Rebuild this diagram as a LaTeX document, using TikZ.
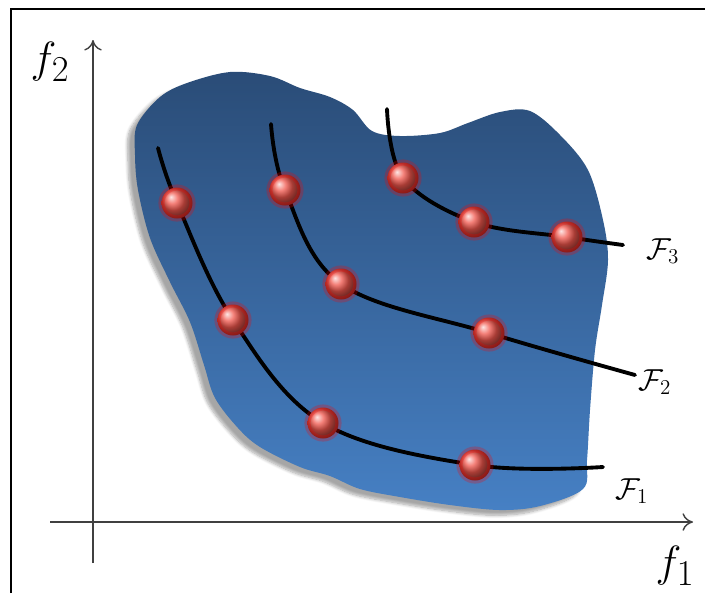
\documentclass[tikz,border=0pt]{standalone}
\usetikzlibrary{arrows.meta,shadows.blur}
\definecolor{regtop}{HTML}{2A4C77}
\definecolor{regbot}{HTML}{4680C4}
\definecolor{ballred}{HTML}{F0564C}
\begin{document}
\begin{tikzpicture}[x=0.02cm,y=-0.02cm,
  axisline/.style={black!75,line width=.8pt,-{To[length=6pt,width=10pt]}},
  front/.style={black,line width=2.2pt,line cap=round},
  sol/.style={circle,inner sep=0pt,minimum size=.62cm,shading=ball,ball color=ballred,draw=red,draw opacity=.25,line width=3.5pt},
  flab/.style={font=\Huge},
  clab/.style={font=\LARGE,anchor=west}]
\useasboundingbox (0,0) rectangle (705,593);
\draw[line width=1.1pt] (11,593) -- (11,9) -- (705,9);
\path[blur shadow={shadow xshift=-4pt,shadow yshift=-3pt,shadow blur steps=8,shadow opacity=35},top color=regtop,bottom color=regbot]
  plot[smooth cycle,tension=.55] coordinates {(137,125) (160,97) (187,83) (230,72) (270,76) (300,88) (330,97)
  (353,110) (372,131) (400,136) (440,133) (468,123) (500,112) (530,111) (560,135) (588,170) (603,220)
  (608,260) (602,305) (595,350) (590,410) (587,460) (583,489) (540,506) (500,510) (450,505) (400,497)
  (360,489) (330,476) (300,467) (260,447) (238,428) (215,398) (204,365) (190,322) (170,282) (150,238)
  (138,190) (135,155)};
\coordinate (ybot) at (93,563);
\coordinate (ytop) at (93,40);
\coordinate (xlft) at (50,522);
\coordinate (xrgt) at (693,522);
\draw[axisline] (ybot) -- (ytop);
\draw[axisline] (xlft) -- (xrgt);
\node[flab] (f2) at (50,62) {$f_2$};
\node[flab] (f1) at (675,566) {$f_1$};
\coordinate (a0) at (158,148);
\coordinate (a1) at (177,203);
\coordinate (a2) at (233,320);
\coordinate (a3) at (323,423);
\coordinate (a4) at (475,465);
\coordinate (a5) at (603,467);
\coordinate (b0) at (271,124);
\coordinate (b1) at (285,190);
\coordinate (b2) at (341,284);
\coordinate (b3) at (489,333);
\coordinate (b4) at (635,375);
\coordinate (c0) at (387,109);
\coordinate (c1) at (403,178);
\coordinate (c2) at (474,222);
\coordinate (c3) at (567,237);
\coordinate (c4) at (623,245);
\draw[front] plot[smooth,tension=.6] coordinates {(a0) (a1) (a2) (a3) (a4) (a5)};
\draw[front] plot[smooth,tension=.6] coordinates {(b0) (b1) (b2) (b3) (b4)};
\draw[front] plot[smooth,tension=.6] coordinates {(c0) (c1) (c2) (c3) (c4)};
\foreach \p in {a1,a2,a3,a4,b1,b2,b3,c1,c2,c3}
  \node[sol] (s\p) at (\p) {};
\node[clab] (F1) at (609,491) {$\mathcal{F}_1$};
\node[clab] (F2) at (632,382) {$\mathcal{F}_2$};
\node[clab] (F3) at (640,251) {$\mathcal{F}_3$};
\end{tikzpicture}
\end{document}
